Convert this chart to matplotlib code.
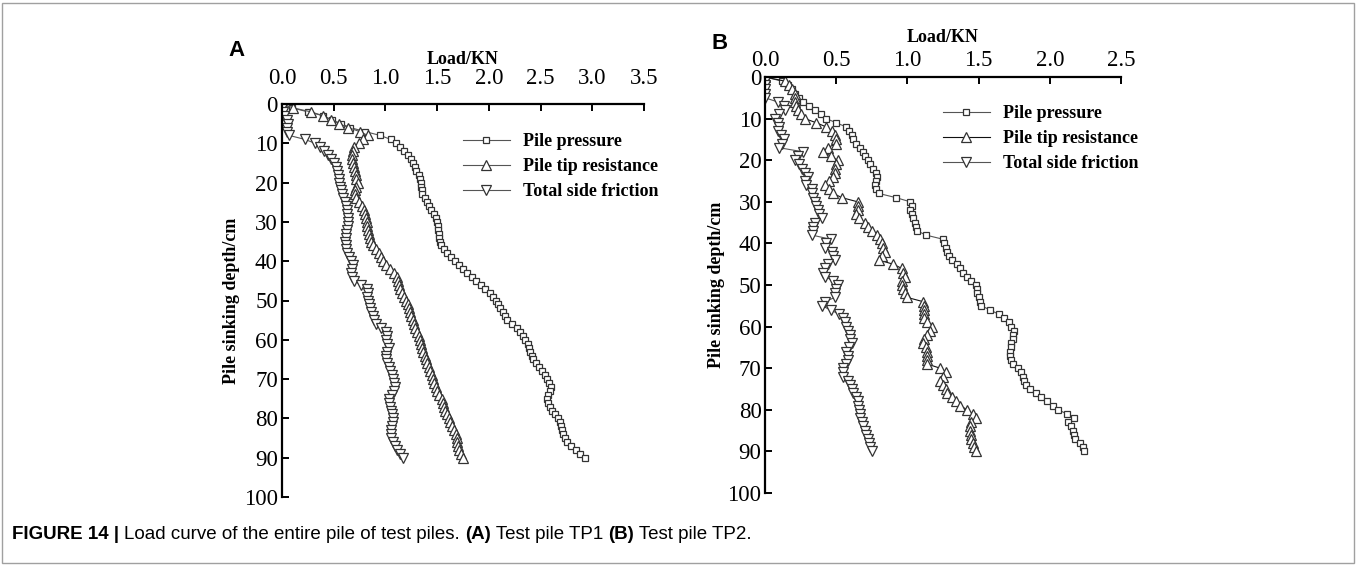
import matplotlib
matplotlib.use("Agg")
import matplotlib.pyplot as plt
from matplotlib.patches import Rectangle

# sinking depth (cm), one reading per cm
depth = list(range(0, 91))

# test pile TP1 (kN)
a_pressure = [0.00, 0.10, 0.25, 0.40, 0.48, 0.57, 0.66, 0.80, 0.95, 1.05,
              1.10, 1.14, 1.18, 1.22, 1.25, 1.27, 1.29, 1.30, 1.32, 1.33,
              1.34, 1.34, 1.35, 1.35, 1.38, 1.40, 1.42, 1.44, 1.47, 1.49,
              1.50, 1.51, 1.51, 1.52, 1.52, 1.53, 1.54, 1.57, 1.60, 1.63,
              1.67, 1.71, 1.75, 1.79, 1.84, 1.88, 1.92, 1.96, 2.01, 2.04,
              2.07, 2.09, 2.11, 2.14, 2.16, 2.18, 2.22, 2.27, 2.30, 2.33,
              2.35, 2.38, 2.39, 2.40, 2.42, 2.43, 2.46, 2.48, 2.51, 2.54,
              2.56, 2.58, 2.60, 2.59, 2.57, 2.56, 2.57, 2.59, 2.61, 2.64,
              2.67, 2.69, 2.70, 2.71, 2.72, 2.74, 2.76, 2.79, 2.84, 2.88,
              2.93]
a_tip = [0.00, 0.11, 0.28, 0.40, 0.47, 0.55, 0.64, 0.75, 0.83, 0.78,
         0.74, 0.70, 0.69, 0.68, 0.68, 0.69, 0.70, 0.71, 0.72, 0.72,
         0.73, 0.72, 0.71, 0.71, 0.72, 0.74, 0.77, 0.79, 0.80, 0.81,
         0.82, 0.82, 0.83, 0.84, 0.85, 0.86, 0.88, 0.91, 0.94, 0.96,
         0.98, 1.01, 1.04, 1.08, 1.11, 1.12, 1.13, 1.14, 1.16, 1.18,
         1.20, 1.22, 1.23, 1.24, 1.25, 1.27, 1.28, 1.29, 1.31, 1.32,
         1.33, 1.34, 1.35, 1.36, 1.38, 1.39, 1.40, 1.42, 1.43, 1.45,
         1.46, 1.47, 1.49, 1.50, 1.52, 1.55, 1.56, 1.57, 1.58, 1.60,
         1.61, 1.62, 1.64, 1.66, 1.68, 1.69, 1.69, 1.70, 1.71, 1.73,
         1.75]
a_side = [0.00, 0.00, 0.01, 0.02, 0.05, 0.06, 0.05, 0.05, 0.07, 0.22,
          0.32, 0.37, 0.41, 0.44, 0.47, 0.50, 0.52, 0.53, 0.54, 0.55,
          0.55, 0.56, 0.57, 0.58, 0.59, 0.61, 0.62, 0.63, 0.63, 0.64,
          0.64, 0.64, 0.63, 0.62, 0.62, 0.61, 0.62, 0.62, 0.63, 0.65,
          0.67, 0.69, 0.68, 0.67, 0.68, 0.70, 0.76, 0.82, 0.83, 0.82,
          0.83, 0.84, 0.85, 0.86, 0.88, 0.89, 0.91, 0.96, 1.01, 1.02,
          1.01, 1.02, 1.03, 1.02, 1.01, 1.01, 1.02, 1.03, 1.04, 1.06,
          1.07, 1.08, 1.09, 1.08, 1.06, 1.03, 1.03, 1.04, 1.05, 1.06,
          1.07, 1.07, 1.06, 1.05, 1.05, 1.05, 1.07, 1.09, 1.11, 1.14,
          1.17]

# test pile TP2 (kN)
b_pressure = [0.00, 0.12, 0.16, 0.19, 0.21, 0.24, 0.27, 0.31, 0.35, 0.39,
              0.43, 0.50, 0.57, 0.59, 0.61, 0.62, 0.64, 0.67, 0.69, 0.70,
              0.72, 0.74, 0.76, 0.78, 0.79, 0.78, 0.77, 0.78, 0.80, 0.92,
              1.02, 1.03, 1.02, 1.03, 1.04, 1.05, 1.06, 1.07, 1.13, 1.25,
              1.26, 1.27, 1.28, 1.29, 1.31, 1.35, 1.37, 1.39, 1.42, 1.45,
              1.48, 1.49, 1.49, 1.50, 1.51, 1.52, 1.58, 1.64, 1.68, 1.71,
              1.73, 1.75, 1.74, 1.74, 1.73, 1.73, 1.72, 1.72, 1.73, 1.74,
              1.78, 1.80, 1.81, 1.82, 1.83, 1.86, 1.90, 1.94, 1.98, 2.02,
              2.06, 2.12, 2.17, 2.13, 2.15, 2.16, 2.17, 2.18, 2.21, 2.23,
              2.24]
b_tip = [0.00, 0.14, 0.17, 0.19, 0.21, 0.21, 0.21, 0.22, 0.23, 0.25,
         0.28, 0.36, 0.43, 0.47, 0.49, 0.50, 0.50, 0.44, 0.41, 0.46,
         0.51, 0.50, 0.49, 0.49, 0.48, 0.45, 0.42, 0.45, 0.48, 0.54,
         0.65, 0.65, 0.65, 0.64, 0.66, 0.70, 0.72, 0.75, 0.79, 0.81,
         0.82, 0.83, 0.84, 0.82, 0.80, 0.90, 0.96, 0.97, 0.98, 0.96,
         0.96, 0.97, 0.98, 1.00, 1.11, 1.12, 1.12, 1.12, 1.12, 1.14,
         1.17, 1.16, 1.14, 1.12, 1.11, 1.13, 1.14, 1.14, 1.14, 1.14,
         1.23, 1.27, 1.25, 1.23, 1.25, 1.27, 1.28, 1.31, 1.34, 1.37,
         1.42, 1.46, 1.48, 1.45, 1.44, 1.44, 1.45, 1.45, 1.46, 1.47,
         1.48]
b_side = [0.00, 0.00, 0.00, 0.00, 0.00, 0.00, 0.09, 0.13, 0.14, 0.10,
          0.07, 0.09, 0.10, 0.09, 0.11, 0.13, 0.12, 0.10, 0.27, 0.23,
          0.21, 0.24, 0.26, 0.28, 0.30, 0.28, 0.29, 0.33, 0.33, 0.34,
          0.35, 0.36, 0.37, 0.38, 0.40, 0.35, 0.34, 0.34, 0.33, 0.46,
          0.43, 0.42, 0.47, 0.48, 0.49, 0.44, 0.42, 0.41, 0.42, 0.48,
          0.51, 0.50, 0.49, 0.49, 0.42, 0.40, 0.46, 0.52, 0.55, 0.56,
          0.57, 0.58, 0.60, 0.60, 0.61, 0.59, 0.57, 0.58, 0.58, 0.57,
          0.55, 0.55, 0.55, 0.58, 0.60, 0.61, 0.62, 0.64, 0.65, 0.65,
          0.66, 0.67, 0.67, 0.68, 0.69, 0.70, 0.71, 0.72, 0.73, 0.74,
          0.75]

labels = ["Pile pressure", "Pile tip resistance", "Total side friction"]
a_xticks = [0.0, 0.5, 1.0, 1.5, 2.0, 2.5, 3.0, 3.5]
b_xticks = [0.0, 0.5, 1.0, 1.5, 2.0, 2.5]
yticks = [0, 10, 20, 30, 40, 50, 60, 70, 80, 90, 100]

serif = "Liberation Serif"
W, H = 1357, 565
fig = plt.figure(figsize=(W / 100, H / 100), dpi=100)
fig.patches.append(Rectangle((2 / W, 2 / H), (W - 5) / W, (H - 5) / H,
                             transform=fig.transFigure, fill=False,
                             edgecolor="#a0a0a0", linewidth=1))


def panel(rect, series, xticks, xpad, xlabelpad, ypad, ylabelpad, leg_anchor, tip_dark):
    ax = fig.add_axes(rect)
    markers = ["s", "^", "v"]
    sizes = [5, 6.5, 6.5]
    for i, vals in enumerate(series):
        lc = "#111111" if (tip_dark and i == 1) else "#555555"
        ax.plot(vals, depth, marker=markers[i], ms=sizes[i], mfc="white",
                mec="#333333", mew=0.9, color=lc, lw=0.8, label=labels[i])
    ax.set_xlim(xticks[0], xticks[-1])
    ax.set_ylim(100, 0)
    ax.set_xticks(xticks)
    ax.set_xticklabels(["%.1f" % t for t in xticks])
    ax.set_yticks(yticks)
    ax.xaxis.tick_top()
    ax.xaxis.set_label_position("top")
    for s in ["right", "bottom"]:
        ax.spines[s].set_visible(False)
    for s in ["left", "top"]:
        ax.spines[s].set_linewidth(1.6)
    ax.tick_params(axis="x", direction="in", length=5, width=1.4, pad=xpad,
                   labelsize=16.5, labelfontfamily=serif)
    ax.tick_params(axis="y", direction="in", length=5, width=1.4, pad=ypad,
                   labelsize=16.5, labelfontfamily=serif)
    ax.set_xlabel("Load/KN", fontfamily=serif, fontweight="bold", fontsize=13,
                  labelpad=xlabelpad)
    ax.set_ylabel("Pile sinking depth/cm", fontfamily=serif, fontweight="bold",
                  fontsize=13, labelpad=ylabelpad)
    ax.legend(loc="upper left", bbox_to_anchor=leg_anchor, bbox_transform=fig.transFigure,
              frameon=False, numpoints=1, handlelength=2.6, handletextpad=0.7,
              labelspacing=0.45, borderpad=0, borderaxespad=0,
              prop={"family": serif, "weight": "bold", "size": 13})
    return ax


panel([282 / W, 1 - 497 / H, 362 / W, 393 / H], [a_pressure, a_tip, a_side], a_xticks,
      xpad=11, xlabelpad=3, ypad=3, ylabelpad=3,
      leg_anchor=(463 / W, 1 - 133 / H), tip_dark=False)
panel([765 / W, 1 - 493 / H, 356 / W, 416 / H], [b_pressure, b_tip, b_side], b_xticks,
      xpad=4, xlabelpad=6, ypad=2.5, ylabelpad=2,
      leg_anchor=(943 / W, 1 - 105 / H), tip_dark=True)

fig.text(228 / W, 1 - 56 / H, "A", fontfamily="Liberation Sans", fontweight="bold", fontsize=16)
fig.text(711 / W, 1 - 49 / H, "B", fontfamily="Liberation Sans", fontweight="bold", fontsize=16)

# caption, pieces chained left to right
pieces = [("FIGURE 14 | ", "bold"), ("Load curve of the entire pile of test piles. ", "normal"),
          ("(A)", "bold"), (" Test pile TP1 ", "normal"), ("(B)", "bold"),
          (" Test pile TP2.", "normal")]
prev = fig.text(12 / W, 1 - 543 / H, pieces[0][0], fontfamily="Liberation Sans",
                fontweight=pieces[0][1], fontsize=13.5, va="bottom")
for txt, wt in pieces[1:]:
    prev = fig.axes[0].annotate(txt, xy=(1, 0), xycoords=prev, va="bottom", ha="left",
                                fontfamily="Liberation Sans", fontweight=wt, fontsize=13.5,
                                annotation_clip=False)

fig.savefig("out.png", dpi=100)
